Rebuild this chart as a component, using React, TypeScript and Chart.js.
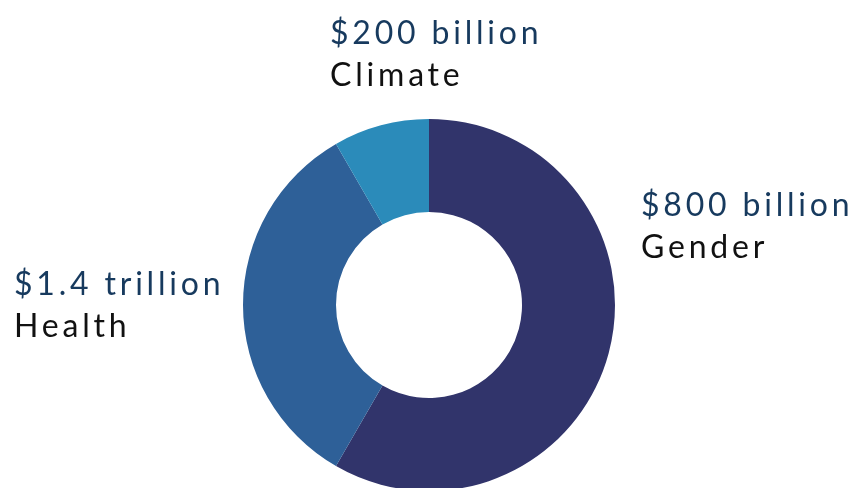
import React, { useEffect, useRef } from "react";
import { Chart, registerables } from "chart.js";

Chart.register(...registerables);

const categories = ["Gender", "Health", "Climate"];
const valueLabels = ["$800 billion", "$1.4 trillion", "$200 billion"];
const sliceValues = [1400, 800, 200];
const sliceColors = ["#31346b", "#2e6098", "#2b8bba"];

const labelPlugin = {
  id: "sideLabels",
  afterDraw(chart: any) {
    const ctx = chart.ctx as CanvasRenderingContext2D;
    const spots = [
      { x: 641, y: 216 },
      { x: 14, y: 295 },
      { x: 330, y: 44 },
    ];
    ctx.save();
    ctx.textAlign = "left";
    ctx.textBaseline = "alphabetic";
    (ctx as any).letterSpacing = "3.8px";
    ctx.font = "32px Lato";
    categories.forEach((c, i) => {
      const s = spots[i];
      ctx.fillStyle = "#173a5e";
      ctx.fillText(valueLabels[i], s.x, s.y);
      ctx.fillStyle = "#111111";
      ctx.fillText(c, s.x, s.y + 42);
    });
    ctx.restore();
  },
};

export default function App() {
  const ref = useRef<HTMLCanvasElement>(null);
  useEffect(() => {
    document.body.style.margin = "0";
    document.body.style.overflow = "hidden";
    const chart = new Chart(ref.current!, {
      type: "doughnut",
      data: {
        labels: categories,
        datasets: [
          {
            data: sliceValues,
            backgroundColor: sliceColors,
            borderWidth: 0,
          },
        ],
      },
      options: {
        responsive: false,
        animation: false,
        cutout: "50%",
        layout: { padding: { left: 243, top: 119, right: 238, bottom: 9 } },
        plugins: { legend: { display: false }, tooltip: { enabled: false } },
      },
      plugins: [labelPlugin],
    });
    return () => chart.destroy();
  }, []);
  return (
    <div style={{ width: 853, height: 488, overflow: "hidden", background: "#fff" }}>
      <canvas ref={ref} width={853} height={500} style={{ display: "block" }} />
    </div>
  );
}
